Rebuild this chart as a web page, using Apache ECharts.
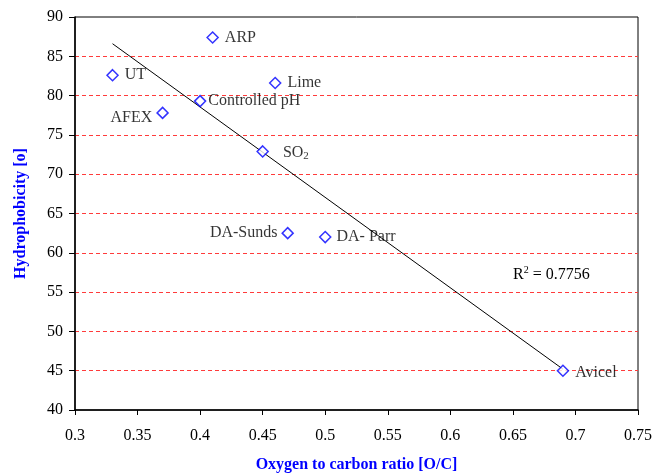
<!DOCTYPE html>
<html>
<head>
<meta charset="utf-8">
<style>
  html, body { margin: 0; padding: 0; background: #fff; }
  #main { width: 653px; height: 473px; }
</style>
<script src="https://cdn.jsdelivr.net/npm/echarts@6/dist/echarts.min.js"></script>
</head>
<body>
<div id="main"></div>
<script>
// values
var names = ['UT', 'ARP', 'Lime', 'AFEX', 'Controlled pH', 'SO2', 'DA-Sunds', 'DA- Parr', 'Avicel'];
var ratioOC = [0.33, 0.41, 0.46, 0.37, 0.40, 0.45, 0.47, 0.50, 0.69];
var hydro = [82.6, 87.4, 81.6, 77.8, 79.3, 72.9, 62.5, 62.0, 45.0];

// linear trend line, end points as drawn
var trendX = [0.33, 0.69];
var trendY = [86.6, 45.2];
var r2 = '0.7756';

// label side / gap for each point (style only)
var labelLeft = { 'AFEX': 4, 'DA-Sunds': 4 };
var labelGap = { 'SO2': 14, 'Controlled pH': 2, 'DA- Parr': 5 };
var labelShift = { 'AFEX': [0, 5], 'Avicel': [0, 2], 'SO2': [0, 1] };

var serif = '"Liberation Serif", "Times New Roman", serif';

var pts = [];
for (var i = 0; i < names.length; i++) {
    var n = names[i];
    var left = labelLeft[n] !== undefined;
    pts.push({
        name: n,
        value: [ratioOC[i], hydro[i]],
        label: {
            position: left ? 'left' : 'right',
            distance: left ? labelLeft[n] : (labelGap[n] !== undefined ? labelGap[n] : 6),
            offset: labelShift[n] || [0, 0]
        }
    });
}
var trend = [];
for (var j = 0; j < trendX.length; j++) trend.push([trendX[j], trendY[j]]);

var myChart = echarts.init(document.getElementById('main'));
var option = {
    backgroundColor: '#fff',
    animation: false,
    textStyle: { fontFamily: serif },
    grid: {
        left: 75, right: 15, top: 17, bottom: 63,
        outerBoundsMode: 'none',
        show: true, borderColor: '#000', borderWidth: 1
    },
    xAxis: {
        type: 'value', min: 0.3, max: 0.75, interval: 0.05,
        name: 'Oxygen to carbon ratio [O/C]',
        nameLocation: 'middle', nameGap: 47,
        nameTextStyle: { color: '#0000ff', fontWeight: 'bold', fontSize: 16, fontFamily: serif },
        axisLine: { lineStyle: { color: '#000', width: 1.5 } },
        axisTick: { show: true, length: 5, lineStyle: { color: '#000' } },
        axisLabel: {
            color: '#000', fontSize: 16, fontFamily: serif, margin: 18,
            formatter: function (v) { return String(Math.round(v * 100) / 100); }
        },
        splitLine: { show: false }
    },
    yAxis: {
        type: 'value', min: 40, max: 90, interval: 5,
        name: 'Hydrophobicity [o]',
        nameLocation: 'middle', nameGap: 46,
        nameTextStyle: { color: '#0000ff', fontWeight: 'bold', fontSize: 16, fontFamily: serif },
        axisLine: { show: true, lineStyle: { color: '#000', width: 1.5 } },
        axisTick: { show: true, length: 6, lineStyle: { color: '#000' } },
        axisLabel: { color: '#000', fontSize: 16, fontFamily: serif, margin: 12 },
        splitLine: {
            show: true, showMinLine: false, showMaxLine: false,
            lineStyle: { color: '#ff3b3b', width: 1, type: [4, 3] }
        }
    },
    series: [
        {
            type: 'line',
            data: trend,
            symbol: 'none',
            lineStyle: { color: '#000', width: 1 },
            z: 2
        },
        {
            type: 'scatter',
            data: pts,
            symbol: 'diamond',
            symbolSize: 11,
            itemStyle: { color: '#fff', borderColor: '#0000ff', borderWidth: 1.5 },
            z: 3,
            label: {
                show: true,
                color: '#000',
                textBorderWidth: 0,
                fontSize: 16,
                fontFamily: serif,
                formatter: function (p) {
                    if (p.name === 'SO2') return '{n|SO}{s|2}';
                    return p.name;
                },
                rich: {
                    n: { fontSize: 16, fontFamily: serif, color: '#000', textBorderWidth: 0 },
                    s: { fontSize: 11, fontFamily: serif, color: '#000', textBorderWidth: 0, padding: [8, 0, 0, 0] }
                }
            }
        }
    ],
    graphic: [
        {
            type: 'text',
            left: 513, top: 265,
            style: {
                text: '{a|R}{s|2}{a| = ' + r2 + '}',
                rich: {
                    a: { fontSize: 16, fontFamily: serif, fill: '#000' },
                    s: { fontSize: 10, fontFamily: serif, fill: '#000', padding: [0, 0, 9, 0] }
                }
            }
        }
    ]
};
myChart.setOption(option);
</script>
</body>
</html>
